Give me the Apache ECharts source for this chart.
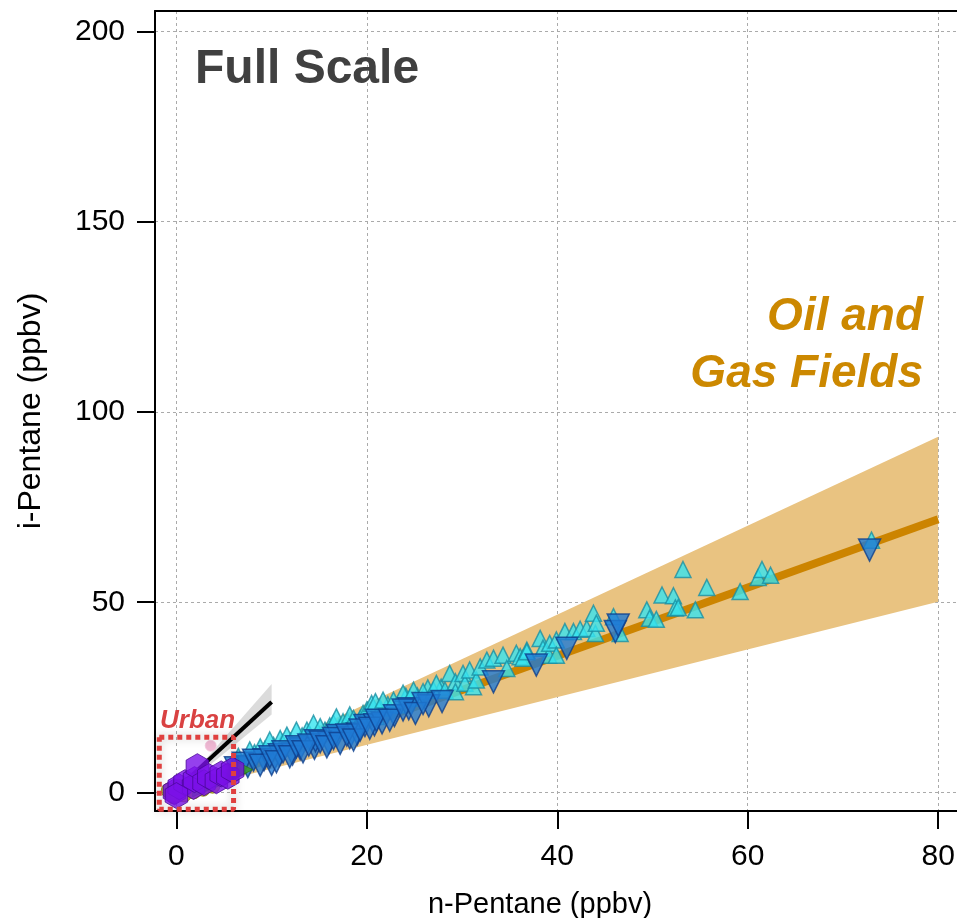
<!DOCTYPE html>
<html><head><meta charset="utf-8">
<script src="https://cdn.jsdelivr.net/npm/echarts@6/dist/echarts.min.js"></script>
<style>html,body{margin:0;padding:0;background:#fff}#c{width:957px;height:918px}</style>
</head><body><div id="c"></div>
<script>
// ---- data ----
const xTicks = [0, 20, 40, 60, 80];
const yTicks = [0, 50, 100, 150, 200];
const xTitle = 'n-Pentane (ppbv)';
const yTitle = 'i-Pentane (ppbv)';

// oil & gas fit (through origin) and its uncertainty band
const ongFit = [[0, 0], [80, 71.8]];
const ongBand = [[0, 0], [80, 93.5], [80, 50.1]];
// urban fit and band
const urbanFit = [[0, 0.8], [10, 23.8]];
const urbanBand = [[0, 0], [10, 28.5], [10, 20.5]];
// urban box outline (data coordinates)
const urbanBox = [[-1.8, 14.5], [6.0, 14.5], [6.0, -4.4], [-1.8, -4.4], [-1.8, 14.5]];

const cyanPts = [
  [6.5,9.5],[8.2,10.5],[9.3,11.4],[10.2,12.4],[11.1,13.1],[12.0,13.4],[13.2,14.9],[14.0,15.2],[15.6,16.4],
  [16.1,17.5],[17.1,17.3],[18.0,18.6],[19.3,19.5],[21.4,22.2],[22.2,23.1],[23.2,23.0],[24.1,25.3],[25.3,25.4],
  [26.4,27.5],[27.8,27.7],
  [7.7,11.2],[8.8,12.0],[9.8,13.8],[10.9,14.2],[11.6,15.1],[12.6,16.4],[13.7,16.4],[14.4,18.2],[15.1,17.3],
  [16.5,18.2],[16.8,19.9],[17.5,18.6],[18.2,20.4],[18.6,19.5],[19.1,18.2],[19.6,20.8],[20.0,21.7],[20.5,23.4],
  [21.0,20.0],[20.9,23.9],[21.7,24.3],[22.8,24.3],[23.8,26.1],[24.5,24.8],[24.9,26.9],[25.9,26.5],[27.0,26.9],
  [27.3,28.7],[28.2,26.9],[28.7,31.3],[29.3,29.1],[29.3,26.5],[30.1,31.3],[30.3,28.7],[30.8,32.2],[31.2,27.8],
  [31.5,29.6],[31.9,33.0],[32.6,34.8],[33.3,35.3],[34.3,36.1],[34.7,32.6],[35.7,36.6],[36.1,35.7],[36.4,35.3],
  [36.8,37.4],[36.8,37.0],[38.2,40.5],[38.5,37.9],[39.1,36.1],[39.2,39.2],[39.9,40.1],[39.9,36.1],[40.8,42.3],
  [41.7,42.3],[42.4,42.9],[43.1,43.1],[43.8,47.1],[44.0,41.8],[44.1,44.5],[45.9,46.2],[46.6,41.8],[49.4,48.0],
  [49.7,45.8],[50.4,45.5],[51.0,51.9],[52.2,51.7],[52.4,48.5],[52.7,48.6],[53.2,58.6],[54.5,48.0],[55.7,53.9],
  [59.2,52.8],[61.1,56.5],[61.5,58.6],[62.4,57.1],[73.0,66.3]
];
const bluePts = [
  [6.2,6.5],[7.5,6.8],[9.2,8.6],[10.0,7.4],[10.8,9.9],[12.2,10.1],[13.0,11.5],[14.5,11.6],[14.6,13.6],[16.0,13.0],
  [16.9,15.0],[18.2,14.4],[19.0,15.4],[19.8,17.6],[20.8,17.8],[21.6,18.3],[22.9,20.2],[24.4,22.0],[26.5,22.8],
  [7.0,7.7],[8.1,8.5],[8.8,7.2],[9.8,9.4],[10.5,8.1],[11.2,10.7],[11.9,9.4],[12.6,12.0],[13.3,10.7],[13.9,12.5],
  [15.1,13.3],[15.8,12.0],[16.5,14.2],[17.2,12.9],[17.9,15.1],[18.6,13.8],[19.3,16.4],[20.3,16.9],[21.0,19.0],
  [22.4,19.0],[23.8,21.7],[25.1,20.8],[25.9,23.4],[27.9,23.9],[33.3,29.1],[37.8,33.5],[41.0,37.9],[46.1,42.3],
  [46.4,44.0],[72.8,63.7]
];
const olivePts = [[-0.8,0.5],[-0.3,-1.0],[0.8,-0.5],[1.8,0.3],[2.8,1.0],[3.8,1.8],[0.2,1.5]];
const greenPts = [[4.5,2.8],[5.5,3.8],[6.6,5.2],[7.2,6.0],[3.5,1.8],[2.5,0.8]];
const urbanPts = [[-0.2,0.2],[0.3,1.5],[0.9,2.6],[1.8,1.6],[1.9,3.4],[2.2,6.8],[2.9,2.6],[3.4,4.2],[4.2,3.1],
  [4.7,4.9],[5.4,4.3],[5.9,5.9],[0.0,-0.8]];
const pinkPts = [[3.6,12.3]];

// ---- chart ----
const chart = echarts.init(document.getElementById('c'), null, {renderer: 'canvas'});
const hex = 'path://M0,-10 L8.66,-5 L8.66,5 L0,10 L-8.66,5 L-8.66,-5 Z';

function polySeries(data, fill, z) {
  return {
    type: 'custom', data: data, z: z, silent: true, clip: true,
    encode: {x: 0, y: 1},
    renderItem: function (params, api) {
      if (params.dataIndex !== 0) return {type: 'group', children: []};
      const pts = data.map(function (p) { return api.coord(p); });
      return {type: 'polygon', shape: {points: pts}, style: {fill: fill}};
    }
  };
}

const FONT = "'Liberation Sans',Arial,sans-serif";
const X_MIN = -2.25, X_MAX = 81.98, Y_MIN = -4.85, Y_MAX = 205.35;

chart.setOption({
  animation: false,
  backgroundColor: '#fff',
  grid: {left: 155, top: 11, right: 0, bottom: 107, show: false, containLabel: false, outerBoundsMode: 'none'},
  xAxis: [{
    type: 'value', min: X_MIN, max: X_MAX, position: 'bottom',
    name: xTitle, nameLocation: 'middle', nameGap: 79,
    nameTextStyle: {fontFamily: FONT, fontSize: 29, color: '#000', padding: [0, 32, 0, 0]},
    axisLine: {show: true, onZero: false, lineStyle: {color: '#000', width: 2}},
    axisTick: {show: true, inside: false, length: 18, lineStyle: {color: '#000', width: 2}, customValues: xTicks},
    axisLabel: {margin: 31, customValues: xTicks, fontFamily: FONT, fontSize: 30, color: '#000'},
    splitLine: {show: true, lineStyle: {color: '#aaa', width: 1, type: [3, 3]}}
  }, {
    type: 'value', min: X_MIN, max: X_MAX, position: 'top',
    axisLine: {show: true, onZero: false, lineStyle: {color: '#000', width: 2}},
    axisTick: {show: false}, axisLabel: {show: false}, splitLine: {show: false}
  }],
  yAxis: {
    type: 'value', min: Y_MIN, max: Y_MAX,
    name: yTitle, nameLocation: 'middle', nameGap: 108, nameRotate: 90,
    nameTextStyle: {fontFamily: FONT, fontSize: 32, color: '#000'},
    axisLine: {show: true, onZero: false, lineStyle: {color: '#000', width: 2}},
    axisTick: {show: true, inside: false, length: 18, lineStyle: {color: '#000', width: 2}, customValues: yTicks},
    axisLabel: {margin: 30, customValues: yTicks, fontFamily: FONT, fontSize: 30, color: '#000'},
    splitLine: {show: true, lineStyle: {color: '#aaa', width: 1, type: [3, 3]}}
  },
  series: [
    polySeries(ongBand, '#E9C381', 1),
    {type: 'line', data: ongFit, z: 2, symbol: 'none', lineStyle: {color: '#CC8400', width: 8}, silent: true},
    polySeries(urbanBand, 'rgba(200,200,200,0.65)', 2),
    {type: 'line', data: urbanFit, z: 3, symbol: 'none', lineStyle: {color: '#000', width: 4}, silent: true},
    {type: 'scatter', data: pinkPts, z: 3, symbol: 'circle', symbolSize: 11,
      itemStyle: {color: '#EBA6C8', borderColor: '#F3C6DC', borderWidth: 1}},
    {type: 'scatter', data: cyanPts, z: 4, symbol: 'triangle', symbolSize: 16,
      itemStyle: {color: '#36E4F0', borderColor: '#1A8FA3', borderWidth: 1.5}},
    {type: 'scatter', data: bluePts, z: 5, symbol: 'triangle', symbolRotate: 180, symbolSize: 22,
      itemStyle: {color: '#1F7AD4', borderColor: '#0E3E8C', borderWidth: 1.5}},
    {type: 'scatter', data: olivePts, z: 6, symbol: 'circle', symbolSize: 15,
      itemStyle: {color: '#A8A410', borderColor: '#8A8600', borderWidth: 1}},
    {type: 'scatter', data: greenPts, z: 6, symbol: 'triangle', symbolRotate: -90, symbolSize: 15,
      itemStyle: {color: '#3A9E22', borderColor: '#2A7A14', borderWidth: 1}},
    {type: 'scatter', data: urbanPts, z: 7, symbol: hex, symbolKeepAspect: true, symbolSize: 26,
      itemStyle: {color: '#7A10E8', borderColor: '#4A0898', borderWidth: 1}},
    {type: 'line', data: urbanBox, z: 8, symbol: 'none', clip: false, silent: true,
      lineStyle: {color: '#E0403F', width: 5, type: [5, 4], shadowBlur: 8, shadowColor: 'rgba(0,0,0,0.25)'}}
  ],
  graphic: [
    {type: 'text', left: 195, top: 46, z: 100, silent: true,
      style: {text: 'Full Scale', fontFamily: FONT, fontWeight: 'bold', fontSize: 48, fill: '#404040'}},
    {type: 'text', right: 34, top: 294, z: 100, silent: true,
      style: {text: 'Oil and', fontFamily: FONT, fontWeight: 'bold', fontStyle: 'italic', fontSize: 46, fill: '#CC8800', align: 'right'}},
    {type: 'text', right: 34, top: 351, z: 100, silent: true,
      style: {text: 'Gas Fields', fontFamily: FONT, fontWeight: 'bold', fontStyle: 'italic', fontSize: 46, fill: '#CC8800', align: 'right'}},
    {type: 'text', left: 160, top: 708, z: 100, silent: true,
      style: {text: 'Urban', fontFamily: FONT, fontWeight: 'bold', fontStyle: 'italic', fontSize: 26, fill: '#D94242'}}
  ]
});
</script></body></html>
